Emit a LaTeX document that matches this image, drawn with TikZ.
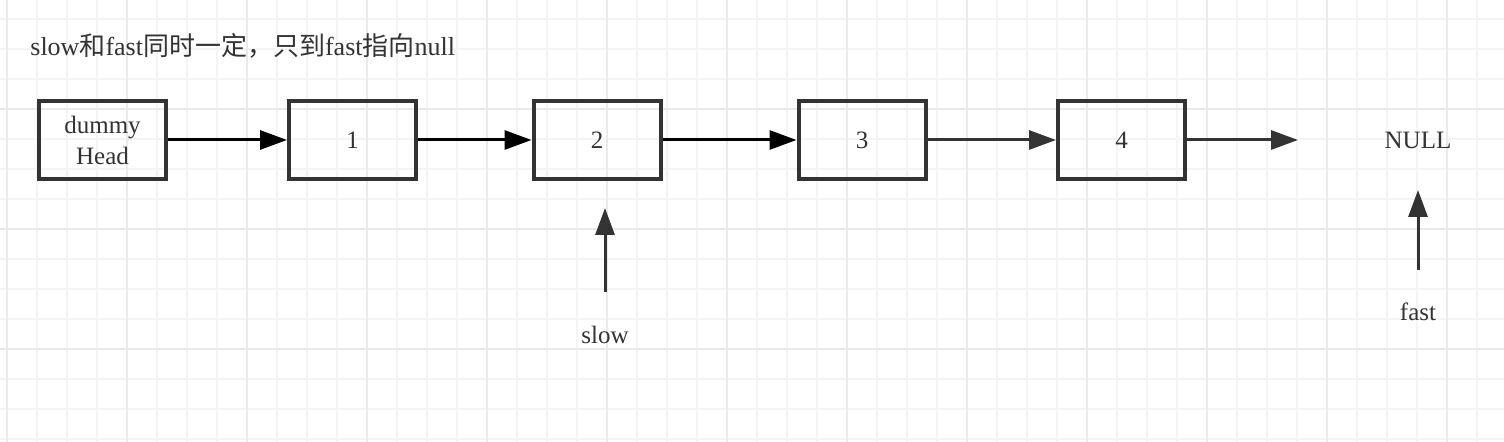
\documentclass[tikz,border=0pt]{standalone}
\usepackage{fontspec}
\setmainfont{Liberation Serif}
\newfontfamily\cjk{Noto Sans CJK SC}
\usetikzlibrary{arrows.meta}
\definecolor{ink}{HTML}{333333}
\definecolor{gridminor}{HTML}{F4F4F4}
\definecolor{gridmajor}{HTML}{EAEAEA}
\tikzset{
  listnode/.style={draw=ink,line width=2pt,minimum width=63.5pt,minimum height=39pt,inner sep=0pt,align=center,text=ink},
  nextptr/.style={line width=1.5pt,-{Triangle[length=13.5pt,width=9.5pt]}},
  plaintext/.style={text=ink,inner sep=0pt}
}
\begin{document}
\begin{tikzpicture}[x=0.5pt,y=0.5pt,font=\fontsize{12.5}{15.5}\selectfont]
\useasboundingbox (0,0) rectangle (1504,442);
\fill[white] (0,0) rectangle (1504,442);
\begin{scope}[shift={(7,3)}]
\draw[gridminor,line width=1pt,step=30] (-7,-3) grid (1497,439);
\end{scope}
\begin{scope}[shift={(7,93)}]
\draw[gridmajor,line width=1pt,step=120] (-7,-93) grid (1497,349);
\end{scope}
\node[plaintext,anchor=west,font=\fontsize{13}{15.5}\selectfont] (title) at (30,396){slow{\cjk 和}fast{\cjk 同时一定，只到}fast{\cjk 指向}null};
\node[listnode] (dummy) at (102.5,302){dummy\\Head};
\node[listnode] (n1) at (352.5,302){1};
\node[listnode] (n2) at (597,302){2};
\node[listnode] (n3) at (862,302){3};
\node[listnode] (n4) at (1121.5,302){4};
\node[plaintext] (null) at (1418,302){NULL};
\coordinate (nullin) at (1298,302);
\node[plaintext] (slow) at (605,107){slow};
\coordinate (slowtail) at (605,150);
\coordinate (slowtip) at (605,234);
\node[plaintext] (fast) at (1418,130){fast};
\coordinate (fasttail) at (1418,172);
\coordinate (fasttip) at (1418,252);
\draw[nextptr,black] (dummy) -- (n1);
\draw[nextptr,black] (n1) -- (n2);
\draw[nextptr,black] (n2) -- (n3);
\draw[nextptr,ink] (n3) -- (n4);
\draw[nextptr,ink] (n4) -- (nullin);
\draw[nextptr,ink] (slowtail) -- (slowtip);
\draw[nextptr,ink] (fasttail) -- (fasttip);
\end{tikzpicture}
\end{document}
